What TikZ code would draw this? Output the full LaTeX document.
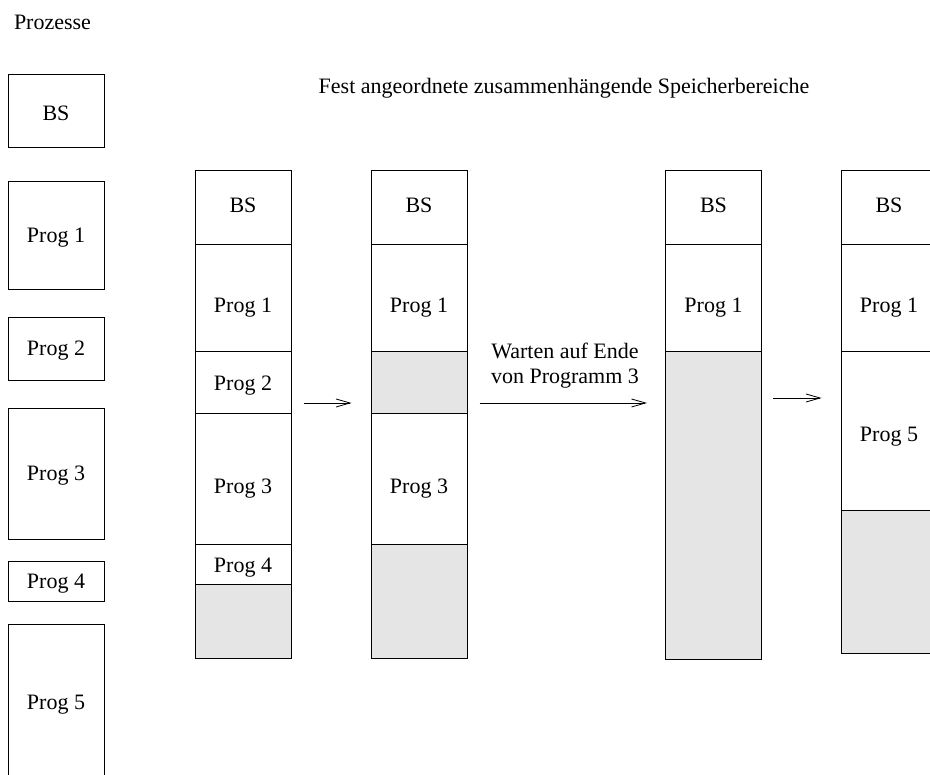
\documentclass[tikz,border=0pt]{standalone}
\usepackage{fontspec}
\setmainfont{Liberation Serif}
\usetikzlibrary{arrows.meta}
\definecolor{freegray}{HTML}{E5E5E5}
\begin{document}
\begin{tikzpicture}[x=1pt,y=-1pt,
  every node/.style={font=\fontsize{22}{26}\selectfont, inner sep=0pt},
  seg/.style={draw=black, line width=1pt, minimum width=96pt, fill=white},
  free/.style={seg, fill=freegray},
  arr/.style={line width=0.8pt, -{Straight Barb[length=14pt,width=8pt,line width=0.8pt]}},
  plain/.style={}]
\clip (0,0) rectangle (930,775);
\fill[white] (0,0) rectangle (930,775);

% titles
\node[plain] (proz) at (52.5,22) {Prozesse};
\node[plain] (title) at (564,88) {Fest angeordnete zusammenh\"angende Speicherbereiche};

% process list
\node[seg, minimum height=73pt]  (lbs) at (56,111.5) {};
\node[plain] at (56,113) {BS};
\node[seg, minimum height=108pt] (lp1) at (56,236) {};
\node[plain] at (56,238) {Prog 1};
\node[seg, minimum height=63pt]  (lp2) at (56,349.5) {};
\node[plain] at (56,351) {Prog 2};
\node[seg, minimum height=131pt] (lp3) at (56,474.5) {};
\node[plain] at (56,476) {Prog 3};
\node[seg, minimum height=40pt]  (lp4) at (56,582) {};
\node[plain] at (56,584) {Prog 4};
\node[seg, minimum height=170pt] (lp5) at (56,709) {};
\node[plain] at (56,705) {Prog 5};

% column 1
\node[seg, minimum height=74pt]  (c1bs) at (243,208) {};
\node[plain] at (243,205) {BS};
\node[seg, minimum height=107pt] (c1p1) at (243,298.5) {};
\node[plain] at (243,308) {Prog 1};
\node[seg, minimum height=62pt]  (c1p2) at (243,383) {};
\node[plain] at (243,386) {Prog 2};
\node[seg, minimum height=131pt] (c1p3) at (243,479.5) {};
\node[plain] at (243,489) {Prog 3};
\node[seg, minimum height=40pt]  (c1p4) at (243,565) {};
\node[plain] at (243,568) {Prog 4};
\node[free, minimum height=73pt] (c1g)  at (243,621.5) {};

% column 2
\node[seg, minimum height=74pt]  (c2bs) at (419,208) {};
\node[plain] at (419,205) {BS};
\node[seg, minimum height=107pt] (c2p1) at (419,298.5) {};
\node[plain] at (419,308) {Prog 1};
\node[free, minimum height=62pt] (c2g1) at (419,383) {};
\node[seg, minimum height=131pt] (c2p3) at (419,479.5) {};
\node[plain] at (419,489) {Prog 3};
\node[free, minimum height=113pt] (c2g2) at (419,601.5) {};

% column 3
\node[seg, minimum height=74pt]  (c3bs) at (713.5,208) {};
\node[plain] at (713.5,205) {BS};
\node[seg, minimum height=107pt] (c3p1) at (713.5,298.5) {};
\node[plain] at (713.5,308) {Prog 1};
\node[free, minimum height=307pt] (c3g) at (713.5,505.5) {};

% column 4
\node[seg, minimum height=74pt]  (c4bs) at (889,208) {};
\node[plain] at (889,205) {BS};
\node[seg, minimum height=107pt] (c4p1) at (889,298.5) {};
\node[plain] at (889,308) {Prog 1};
\node[seg, minimum height=159pt] (c4p5) at (889,431.5) {};
\node[plain] at (889,437) {Prog 5};
\node[free, minimum height=142pt] (c4g) at (889,582) {};

% arrows
\coordinate (ya) at (0,403);
\coordinate (yb) at (0,398);
\draw[arr, shorten <=12pt, shorten >=19pt] (c1p2.east |- ya) -- (c2g1.west |- ya);
\draw[arr, shorten <=12pt, shorten >=18pt] (c2g1.east |- ya) -- (c3g.west |- ya);
\node[plain, align=center] (wait) at (565,366) {Warten auf Ende\\[-1pt]von Programm 3};
\draw[arr, shorten <=11pt, shorten >=19pt] (c3g.east |- yb) -- (c4p5.west |- yb);
\end{tikzpicture}
\end{document}
